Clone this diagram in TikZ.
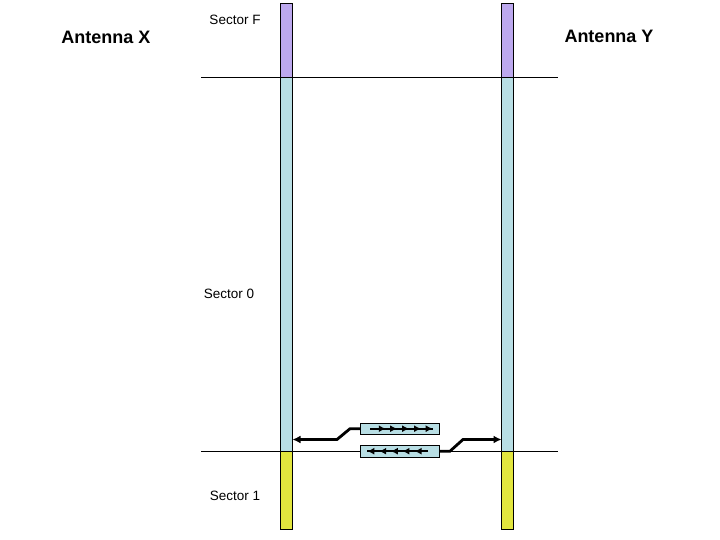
\documentclass[tikz,border=0pt]{standalone}
\usepackage{fontspec}
\setmainfont{Liberation Sans}
\usetikzlibrary{arrows.meta,decorations.markings}
\definecolor{secF}{RGB}{188,168,238}
\definecolor{secZ}{RGB}{184,222,228}
\definecolor{secO}{RGB}{226,230,62}
\tikzset{
  seg/.style={draw=black,line width=0.9pt,minimum width=12pt,inner sep=0pt,outer sep=0pt,anchor=north west},
  pkt/.style={draw=black,line width=0.7pt,fill=secZ,minimum width=78.6pt,minimum height=11.5pt,inner sep=0pt,outer sep=0pt,anchor=north west},
  divider/.style={line width=0.8pt},
  link/.style={line width=2.8pt,-{Latex[length=8pt,width=8pt]}},
  ticks/.style={line width=1.8pt,postaction={decorate}},
  bigtitle/.style={font=\fontsize{18}{20}\selectfont\bfseries},
  seclabel/.style={font=\fontsize{13.5}{15}\selectfont}
}
\newcommand{\tk}{\arrow{Latex[length=7pt,width=7pt]}}
\begin{document}
\begin{tikzpicture}[x=1pt,y=-1pt]
\useasboundingbox (0,0) rectangle (720,540);
% left antenna bar
\node[seg,fill=secF,minimum height=74pt] (xF) at (280.5,3.5) {};
\node[seg,fill=secZ,minimum height=374pt] (xZ) at (280.5,77.5) {};
\node[seg,fill=secO,minimum height=78pt] (xO) at (280.5,451.5) {};
% right antenna bar
\node[seg,fill=secF,minimum height=74pt] (yF) at (501.5,3.5) {};
\node[seg,fill=secZ,minimum height=374pt] (yZ) at (501.5,77.5) {};
\node[seg,fill=secO,minimum height=78pt] (yO) at (501.5,451.5) {};
% sector dividers
\coordinate (d1a) at (201,77.5); \coordinate (d1b) at (558,77.5);
\coordinate (d2a) at (201,451.5); \coordinate (d2b) at (558,451.5);
\draw[divider] (d1a) -- (d1b);
\draw[divider] (d2a) -- (d2b);
% labels
\node[bigtitle] (ax) at (106,37) {Antenna X};
\node[bigtitle] (ay) at (609,36) {Antenna Y};
\node[seclabel] (lF) at (235,20) {Sector F};
\node[seclabel] (l0) at (229,294) {Sector 0};
\node[seclabel] (l1) at (235,496) {Sector 1};
% packets
\node[pkt] (p1) at (360.7,423) {};
\node[pkt] (p2) at (360.7,445.5) {};
\coordinate (p1s) at (370,428.7); \coordinate (p1e) at (433,428.7);
\coordinate (p2s) at (428,451.2); \coordinate (p2e) at (367,451.2);
\draw[ticks,decoration={markings,
  mark=at position 0.25 with {\tk},mark=at position 0.43 with {\tk},
  mark=at position 0.62 with {\tk},mark=at position 0.81 with {\tk},
  mark=at position 0.995 with {\tk}}] (p1s) -- (p1e);
\draw[ticks,decoration={markings,
  mark=at position 0.22 with {\tk},mark=at position 0.42 with {\tk},
  mark=at position 0.61 with {\tk},mark=at position 0.80 with {\tk},
  mark=at position 0.995 with {\tk}}] (p2s) -- (p2e);
% links
\coordinate (k1) at (350,428.7); \coordinate (k2) at (337,439.5);
\coordinate (k3) at (450,451.2); \coordinate (k4) at (463,439.5);
\draw[link] (p1.west) -- (k1) -- (k2) -- (xZ.east |- k2);
\draw[link] (p2.east) -- (k3) -- (k4) -- (yZ.west |- k4);
\end{tikzpicture}
\end{document}
